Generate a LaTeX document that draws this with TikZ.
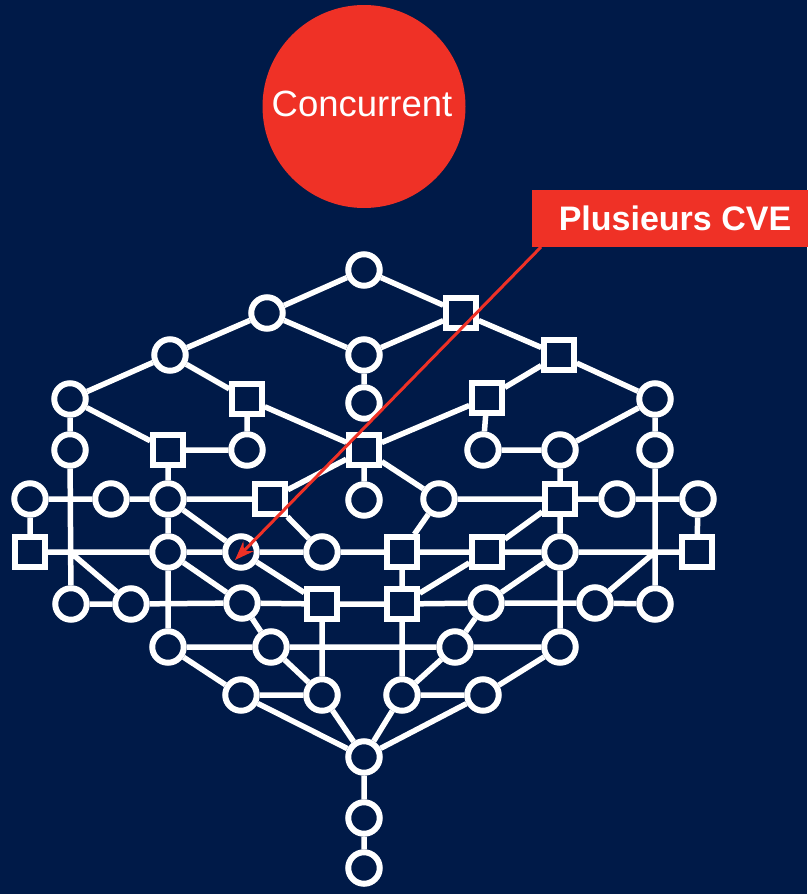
\documentclass[tikz,border=0pt]{standalone}
\usepackage{fontspec}
\setmainfont{Liberation Sans}
\usetikzlibrary{arrows.meta}
\definecolor{bgnavy}{RGB}{0,26,72}
\definecolor{accred}{RGB}{239,49,38}
\begin{document}
\begin{tikzpicture}[x=1pt,y=-1pt,
  cnode/.style={circle,draw=white,line width=6pt,fill=bgnavy,inner sep=0pt,minimum size=31.5pt},
  snode/.style={rectangle,draw=white,line width=6pt,fill=bgnavy,inner sep=0pt,minimum size=29.5pt},
  edge/.style={draw=white,line width=5.5pt},
  callout/.style={line width=3pt,draw=accred,-{Stealth[length=19pt,width=14pt]}}]
\useasboundingbox (0,0) rectangle (807,894);
\fill[bgnavy] (0,0) rectangle (807,894);
% top circle
\node[circle,fill=accred,minimum size=203pt,inner sep=0pt] (conc) at (364,106.5) {};
\node[text=white,font=\fontsize{36.5}{40}\selectfont] (conctext) at (362,104) {Concurrent};
% callout box
\node[rectangle,fill=accred,minimum width=276pt,minimum height=57pt,inner sep=0pt] (cve) at (670,218.5) {};
\node[text=white,font=\bfseries\fontsize{34}{38}\selectfont] (cvetext) at (675,218) {Plusieurs CVE};
% nodes
\node[cnode] (A1) at (364,270) {};
\node[cnode] (B1) at (267,313) {};
\node[snode] (B2) at (461,313) {};
\node[cnode] (C1) at (170,355) {};
\node[cnode] (C2) at (364,355) {};
\node[snode] (C3) at (559,355) {};
\node[cnode] (D1) at (70,399) {};
\node[snode] (D2) at (247,399) {};
\node[cnode] (D3) at (364,403) {};
\node[snode] (D4) at (487,398) {};
\node[cnode] (D5) at (655,399) {};
\node[cnode] (E1) at (70,450) {};
\node[snode] (E2) at (168,450) {};
\node[cnode] (E3) at (247,450) {};
\node[snode] (E4) at (364,450) {};
\node[cnode] (E5) at (483,450) {};
\node[cnode] (E6) at (560,450) {};
\node[cnode] (E7) at (655,450) {};
\node[cnode] (F1) at (30,499) {};
\node[cnode] (F2) at (111,499) {};
\node[cnode] (F3) at (168,499) {};
\node[snode] (F4) at (270,499) {};
\node[cnode] (F5) at (364,500) {};
\node[cnode] (F6) at (439,499) {};
\node[snode] (F7) at (560,499) {};
\node[cnode] (F8) at (617,499) {};
\node[cnode] (F9) at (698,499) {};
\node[snode] (G1) at (30,552) {};
\node[cnode] (G2) at (168,552) {};
\node[cnode] (G3) at (241,552) {};
\node[cnode] (G4) at (322,552) {};
\node[snode] (G5) at (402,552) {};
\node[snode] (G6) at (487,552) {};
\node[cnode] (G7) at (560,552) {};
\node[snode] (G8) at (697,552) {};
\node[cnode] (H1) at (71,604) {};
\node[cnode] (H2) at (131,604) {};
\node[cnode] (H3) at (242,603) {};
\node[snode] (H4) at (322,604) {};
\node[snode] (H5) at (402,604) {};
\node[cnode] (H6) at (486,603) {};
\node[cnode] (H7) at (595,603) {};
\node[cnode] (H8) at (655,604) {};
\node[cnode] (I1) at (168,647) {};
\node[cnode] (I2) at (271,647) {};
\node[cnode] (I3) at (455,647) {};
\node[cnode] (I4) at (560,647) {};
\node[cnode] (J1) at (241,695) {};
\node[cnode] (J2) at (322,695) {};
\node[cnode] (J3) at (402,695) {};
\node[cnode] (J4) at (483,695) {};
\node[cnode] (K) at (364,757) {};
\node[cnode] (L) at (364,818) {};
\node[cnode] (M) at (364,868) {};
\coordinate (jL) at (70,552);
\coordinate (jR) at (655,552);
% edges
\path[edge]
 (A1)--(B1) (A1)--(B2) (B1)--(C1) (B1)--(C2) (B2)--(C2) (B2)--(C3)
 (C1)--(D1) (C1)--(D2) (C2)--(D3) (C3)--(D4) (C3)--(D5)
 (D1)--(E1) (D1)--(E2) (D2)--(E3) (D2)--(E4) (D4)--(E4) (D4)--(E5) (D5)--(E6) (D5)--(E7)
 (E2)--(E3) (E5)--(E6)
 (E1)--(H1) (E2)--(F3) (E4)--(F4) (E4)--(F5) (E4)--(F6) (E6)--(F7) (E7)--(H8)
 (F1)--(F2) (F2)--(F3) (F3)--(F4) (F6)--(F7) (F7)--(F8) (F8)--(F9)
 (F1)--(G1) (F9)--(G8) (F3)--(G2) (F3)--(G3) (F4)--(G4) (F6)--(G5) (F7)--(G6) (F7)--(G7)
 (G1)--(G2) (G2)--(G3) (G3)--(G4) (G4)--(G5) (G5)--(G6) (G6)--(G7) (G7)--(G8)
 (jL)--(H2) (jR)--(H7)
 (G2)--(I1) (G2)--(H3) (G3)--(H4) (G5)--(H5) (G6)--(H5) (G7)--(H6) (G7)--(I4)
 (H1)--(H2) (H2)--(H3) (H3)--(H4) (H4)--(H5) (H5)--(H6) (H6)--(H7) (H7)--(H8)
 (H3)--(I2) (H6)--(I3) (H4)--(J2) (H5)--(J3)
 (I1)--(I2) (I2)--(I3) (I3)--(I4)
 (I1)--(J1) (I2)--(J2) (I3)--(J3) (I4)--(J4) (J1)--(J2) (J3)--(J4)
 (J1)--(K) (J2)--(K) (J3)--(K) (J4)--(K) (K)--(L) (L)--(M);
% callout arrow
\coordinate (arrstart) at (541,247);
\coordinate (arrtip) at (235,560);
\draw[callout] (arrstart) -- (arrtip);
\end{tikzpicture}
\end{document}
